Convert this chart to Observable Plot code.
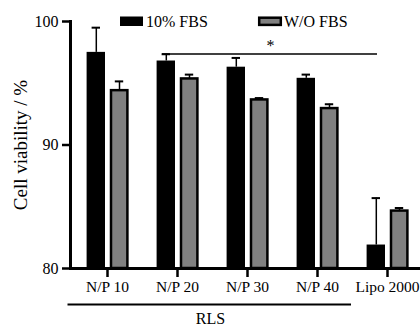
<!DOCTYPE html>
<html><head><meta charset="utf-8">
<script src="https://cdn.jsdelivr.net/npm/d3@7"></script>
<script src="https://cdn.jsdelivr.net/npm/@observablehq/plot@0.6"></script>
<style>
html,body{margin:0;padding:0;background:#fff;overflow:hidden}
#chart svg, #chart svg text { font-family: "Liberation Serif", "DejaVu Serif", serif !important; }
</style>
</head><body><div id="chart"></div>
<script>
const categories = ["N/P 10", "N/P 20", "N/P 30", "N/P 40", "Lipo 2000"];
const seriesNames = ["10% FBS", "W/O FBS"];
const withFBS = [97.5, 96.8, 96.3, 95.4, 81.9];
const withFBSErr = [2.0, 0.55, 0.75, 0.3, 3.8];
const withoutFBS = [94.4, 95.35, 93.65, 92.95, 84.65];
const withoutFBSErr = [0.75, 0.35, 0.15, 0.35, 0.25];
const yTicks = [80, 90, 100];
const sigLevel = [97.37];
const sigLabel = ["*"];
const groupLabel = ["RLS"];
const groupMembers = ["N/P 10", "N/P 40"];
const sigSpan = ["N/P 20", "Lipo 2000"];
const yLabel = "Cell viability / %";

const black = categories.map((c, i) => ({cat: c, v: withFBS[i], hi: withFBS[i] + withFBSErr[i]}));
const gray = categories.map((c, i) => ({cat: c, v: withoutFBS[i], hi: withoutFBS[i] + withoutFBSErr[i]}));

const serif = "'Liberation Serif', 'DejaVu Serif', serif";
const GRAY = "#808080";

const plot = Plot.plot({
  width: 420, height: 327,
  marginLeft: 70, marginRight: -3, marginTop: 21, marginBottom: 59,
  style: {fontFamily: serif, fontSize: "16px", color: "#000", background: "#fff", overflow: "visible"},
  x: {domain: categories, padding: 0, label: null},
  y: {domain: [80, 100], label: null},
  marks: [
    Plot.barY(black, {x: "cat", y1: 80, y2: "v", fill: "#000", insetLeft: 14.6, insetRight: 37}),
    Plot.barY(gray, {x: "cat", y1: 80, y2: "v", fill: GRAY, stroke: "#000", strokeWidth: 2.5, insetLeft: 39, insetRight: 14.6}),
    Plot.ruleX(black, {x: "cat", y1: "v", y2: "hi", dx: -11.2, strokeWidth: 1.5}),
    Plot.tickY(black, {x: "cat", y: "hi", insetLeft: 19.6, insetRight: 42, strokeWidth: 2}),
    Plot.ruleX(gray, {x: "cat", y1: "v", y2: "hi", dx: 12, strokeWidth: 1.5}),
    Plot.tickY(gray, {x: "cat", y: "hi", insetLeft: 42.8, insetRight: 18.8, strokeWidth: 2}),
    Plot.ruleY([80], {strokeWidth: 3}),
    Plot.frame({anchor: "left", strokeWidth: 3}),
    Plot.axisY({ticks: yTicks, tickSize: 8, tickPadding: 4, strokeWidth: 2.5, label: null, fontSize: 16, tickFormat: d => String(d)}),
    Plot.axisX({tickSize: 9, tickPadding: 3, strokeWidth: 2.5, label: null, fontSize: 15.5}),
    Plot.ruleY(sigLevel, {x1: () => sigSpan[0], x2: () => sigSpan[1], insetLeft: 20, insetRight: 45, strokeWidth: 1.5}),
    Plot.text(sigLabel, {x: () => "N/P 30", y: () => sigLevel[0], text: d => d, dx: 23, dy: -8, fontSize: 16}),
    Plot.ruleY([80], {x1: () => groupMembers[0], x2: () => groupMembers[1], insetLeft: -4.5, insetRight: 1, dy: 36, strokeWidth: 2}),
    Plot.text(groupLabel, {x: () => "N/P 20", y: 80, text: d => d, dx: 33, dy: 50, fontSize: 16}),
    Plot.text([yLabel], {frameAnchor: "left", text: d => d, dx: -50, rotate: -90, fontSize: 19, textAnchor: "middle"})
  ]
});

// legend
const svg = d3.select(plot);
const lg = svg.append("g").attr("text-anchor", "start");
const legendX = [120, 258];
seriesNames.forEach((name, i) => {
  if (i === 0) {
    lg.append("rect").attr("x", legendX[i]).attr("y", 16.5).attr("width", 23).attr("height", 9.5).attr("fill", "#000");
  } else {
    lg.append("rect").attr("x", legendX[i] + 1.2).attr("y", 17.7).attr("width", 21.6).attr("height", 7.2)
      .attr("fill", GRAY).attr("stroke", "#000").attr("stroke-width", 2.5);
  }
  lg.append("text").attr("x", legendX[i] + 26).attr("y", 21.5).attr("dy", "0.35em")
    .attr("font-size", 16).attr("fill", "#000").text(name);
});

document.getElementById("chart").appendChild(plot);
</script></body></html>
